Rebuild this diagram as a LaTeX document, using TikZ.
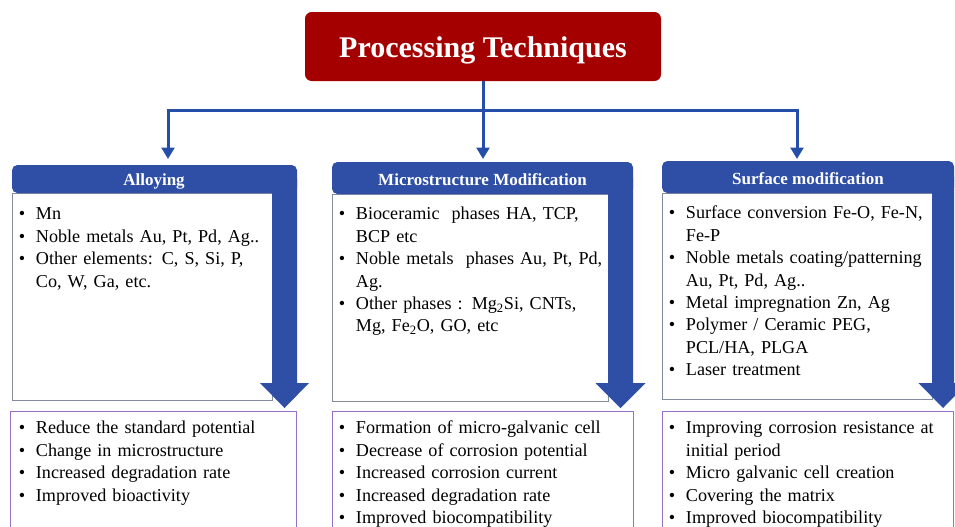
\documentclass[tikz,border=0pt]{standalone}
\usepackage{fontspec}
\setmainfont{Liberation Serif}
\usetikzlibrary{arrows.meta}
\usetikzlibrary{positioning}
\definecolor{techred}{RGB}{165,0,0}
\definecolor{techblue}{RGB}{46,79,165}
\definecolor{linkblue}{RGB}{36,78,168}
\definecolor{listgray}{RGB}{130,140,160}
\definecolor{listpurple}{RGB}{150,110,195}
\tikzset{techbox/.style = {fill=techred, rounded corners=5pt, text=white,
                           font=\fontsize{22.5}{27}\selectfont\bfseries,
                           text height=19pt, text depth=1.8pt,
                           minimum width=267pt, minimum height=51.75pt}}
\tikzset{link/.style = {draw=linkblue, line width=2.25pt}}
\tikzset{linkarrow/.style = {link, -{Triangle[width=9.5pt, length=8.5pt]}}}
\tikzset{headbar/.style = {fill=techblue, rounded corners=4pt}}
\tikzset{headtext/.style = {anchor=base, text=white, font=\fontsize{12.75}{15}\selectfont\bfseries}}
\tikzset{listbox/.style = {draw=listgray, line width=0.75pt}}
\tikzset{effectbox/.style = {draw=listpurple, line width=0.75pt}}
\tikzset{items/.style = {anchor=north west, inner sep=0, align=left, text width=260pt,
                         font=\fontsize{13.6}{16.8}\selectfont}}
\newcommand{\bitem}[1]{\par\hangindent=12.75pt\hangafter=1\noindent\strut\makebox[12.75pt][l]{\textbullet}#1\par}

\begin{document}
\begin{tikzpicture}[x=0.75pt, y=-0.75pt]
    \clip (0, 0) rectangle (955, 526);

    \node [techbox] (proc) at (483, 46.5) {Processing Techniques};
    \coordinate (split) at (483, 110);
    \coordinate (toAlloy) at (168, 159);
    \coordinate (toMicro) at (483, 159);
    \coordinate (toSurface) at (797, 159);
    \draw [link] (proc) -- (split);
    \draw [linkarrow] (split) -| (toAlloy);
    \draw [linkarrow] (split) -- (toMicro);
    \draw [linkarrow] (split) -| (toSurface);

    % alloying
    \draw [listbox] (12, 193) rectangle (272, 400);
    \fill [headbar] (12, 165) rectangle (297, 193);
    \fill [techblue] (272, 179) -- (297, 179) -- (297, 383) -- (309, 383) -- (284.5, 408)
                     -- (260, 383) -- (272, 383) -- cycle;
    \node [headtext] (alloy) at (154, 185.5) {Alloying};
    \node [items] (alloyList) at (18.7, 197.3) {
        \bitem{Mn}
        \bitem{Noble metals Au, Pt, Pd, Ag..}
        \bitem{Other elements: C, S, Si, P,\newline Co, W, Ga, etc.}};
    \draw [effectbox] (10, 411) rectangle (296, 540);
    \node [items] (alloyEffect) at (18.7, 411.3) {
        \bitem{Reduce the standard potential}
        \bitem{Change in microstructure}
        \bitem{Increased degradation rate}
        \bitem{Improved bioactivity}};

    % microstructure
    \draw [listbox] (332, 194) rectangle (608, 401);
    \fill [headbar] (332, 162) rectangle (633, 194);
    \fill [techblue] (608, 178) -- (633, 178) -- (633, 383) -- (645.5, 383) -- (620.5, 408)
                     -- (595.5, 383) -- (608, 383) -- cycle;
    \node [headtext] (micro) at (482.5, 185) {Microstructure Modification};
    \node [items] (microList) at (338.7, 197.3) {
        \bitem{Bioceramic~ phases HA, TCP,\newline BCP etc}
        \bitem{Noble metals~ phases Au, Pt, Pd,\newline Ag.}
        \bitem{Other phases : Mg\textsubscript{2}Si, CNTs,\newline Mg, Fe\textsubscript{2}O, GO, etc}};
    \draw [effectbox] (332, 411) rectangle (633, 540);
    \node [items] (microEffect) at (338.7, 411.3) {
        \bitem{Formation of micro-galvanic cell}
        \bitem{Decrease of corrosion potential}
        \bitem{Increased corrosion current}
        \bitem{Increased degradation rate}
        \bitem{Improved biocompatibility}};

    % surface
    \draw [listbox] (662, 193) rectangle (932, 399);
    \fill [headbar] (662, 161) rectangle (954, 193);
    \fill [techblue] (932, 177) -- (954, 177) -- (954, 383) -- (967.5, 383) -- (943, 408)
                     -- (918.5, 383) -- (932, 383) -- cycle;
    \node [headtext] (surface) at (808, 184) {Surface modification};
    \node [items] (surfaceList) at (668.7, 196.3) {
        \bitem{Surface conversion Fe-O, Fe-N,\newline Fe-P}
        \bitem{Noble metals coating/patterning\newline Au, Pt, Pd, Ag..}
        \bitem{Metal impregnation Zn, Ag}
        \bitem{Polymer / Ceramic PEG,\newline PCL/HA, PLGA}
        \bitem{Laser treatment}};
    \draw [effectbox] (662, 411) rectangle (953, 540);
    \node [items] (surfaceEffect) at (668.7, 411.3) {
        \bitem{Improving corrosion resistance at\newline initial period}
        \bitem{Micro galvanic cell creation}
        \bitem{Covering the matrix}
        \bitem{Improved biocompatibility}};
  \end{tikzpicture}
\end{document}
